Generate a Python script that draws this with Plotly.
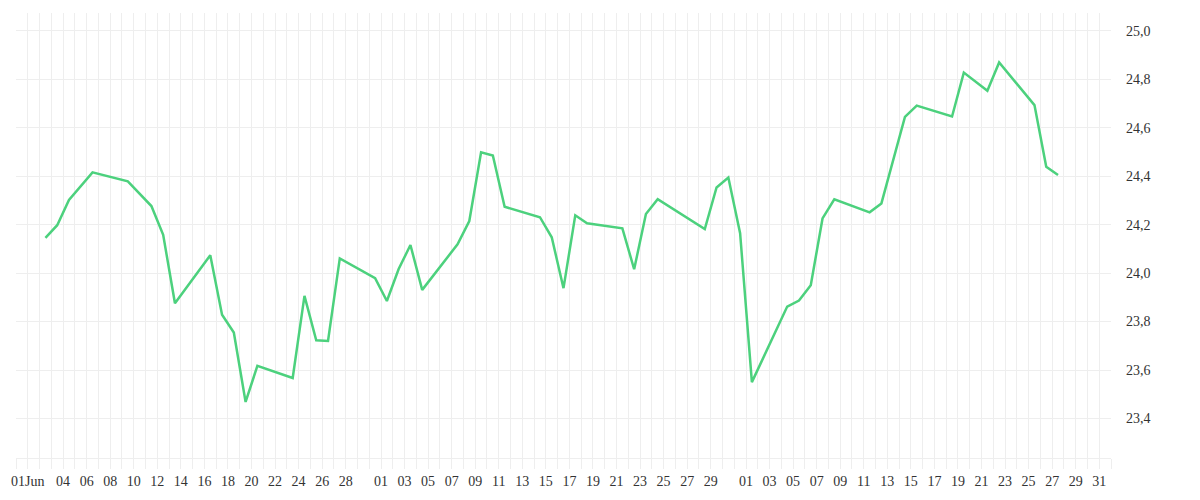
import plotly.graph_objects as go

# daily closing values, trading days only (points sit mid-day)
dates = [
    "2014-06-02", "2014-06-03", "2014-06-04", "2014-06-06", "2014-06-09",
    "2014-06-11", "2014-06-12", "2014-06-13", "2014-06-16", "2014-06-17",
    "2014-06-18", "2014-06-19", "2014-06-20", "2014-06-23", "2014-06-24",
    "2014-06-25", "2014-06-26", "2014-06-27", "2014-06-30", "2014-07-01",
    "2014-07-02", "2014-07-03", "2014-07-04", "2014-07-07", "2014-07-08",
    "2014-07-09", "2014-07-10", "2014-07-11", "2014-07-14", "2014-07-15",
    "2014-07-16", "2014-07-17", "2014-07-18", "2014-07-21", "2014-07-22",
    "2014-07-23", "2014-07-24", "2014-07-28", "2014-07-29", "2014-07-30",
    "2014-07-31", "2014-08-01", "2014-08-04", "2014-08-05", "2014-08-06",
    "2014-08-07", "2014-08-08", "2014-08-11", "2014-08-12", "2014-08-13",
    "2014-08-14", "2014-08-15", "2014-08-18", "2014-08-19", "2014-08-21",
    "2014-08-22", "2014-08-25", "2014-08-26", "2014-08-27",
]
values = [
    24.146, 24.198, 24.302, 24.416, 24.379,
    24.277, 24.158, 23.876, 24.074, 23.828,
    23.755, 23.468, 23.617, 23.567, 23.906,
    23.723, 23.720, 24.061, 23.979, 23.885,
    24.017, 24.116, 23.931, 24.119, 24.215,
    24.499, 24.486, 24.274, 24.231, 24.148,
    23.938, 24.239, 24.206, 24.185, 24.016,
    24.244, 24.305, 24.182, 24.354, 24.395,
    24.165, 23.550, 23.862, 23.887, 23.950,
    24.226, 24.305, 24.251, 24.288, 24.467,
    24.645, 24.692, 24.647, 24.828, 24.753,
    24.870, 24.694, 24.439, 24.405,
]

tick_dates = [
    "2014-06-01", "2014-06-04", "2014-06-06", "2014-06-08", "2014-06-10",
    "2014-06-12", "2014-06-14", "2014-06-16", "2014-06-18", "2014-06-20",
    "2014-06-22", "2014-06-24", "2014-06-26", "2014-06-28",
    "2014-07-01", "2014-07-03", "2014-07-05", "2014-07-07", "2014-07-09",
    "2014-07-11", "2014-07-13", "2014-07-15", "2014-07-17", "2014-07-19",
    "2014-07-21", "2014-07-23", "2014-07-25", "2014-07-27", "2014-07-29",
    "2014-08-01", "2014-08-03", "2014-08-05", "2014-08-07", "2014-08-09",
    "2014-08-11", "2014-08-13", "2014-08-15", "2014-08-17", "2014-08-19",
    "2014-08-21", "2014-08-23", "2014-08-25", "2014-08-27", "2014-08-29",
    "2014-08-31",
]
tick_labels = ["01Jun"] + [d[-2:] for d in tick_dates[1:]]

GRID = "#eeeeee"
FONT = dict(family="Liberation Serif", size=14, color="#333333")

fig = go.Figure()
fig.add_trace(go.Scatter(
    x=[d + " 12:00" for d in dates],
    y=values,
    mode="lines",
    line=dict(color="#4cd17d", width=2.5),
    showlegend=False,
))

# page body adds an 8px offset, so margins are shifted to compensate;
# y axis sits a bit right of the plot area (free anchor) to leave a gap
fig.update_layout(
    width=1200,
    height=500,
    margin=dict(l=8, r=83, t=5, b=50),
    paper_bgcolor="white",
    plot_bgcolor="white",
    separators=",.",
    font=FONT,
    xaxis=dict(
        type="date",
        domain=[0, 1095 / 1109],
        automargin=False,
        range=["2014-05-31", "2014-09-01"],
        tickvals=tick_dates,
        ticktext=tick_labels,
        showgrid=True,
        gridcolor=GRID,
        ticks="outside",
        ticklen=10,
        tickcolor=GRID,
        showline=True,
        linecolor=GRID,
        zeroline=False,
        minor=dict(
            dtick=86400000,
            tick0="2014-05-31",
            showgrid=True,
            gridcolor=GRID,
            ticks="outside",
            ticklen=10,
            tickcolor=GRID,
        ),
    ),
    yaxis=dict(
        side="right",
        anchor="free",
        position=1.0,
        automargin=False,
        range=[23.2367, 25.0742],
        dtick=0.2,
        tick0=23.4,
        tickformat=".1f",
        showgrid=True,
        gridcolor=GRID,
        zeroline=False,
        ticks="",
    ),
)

fig.write_html("out.html")
